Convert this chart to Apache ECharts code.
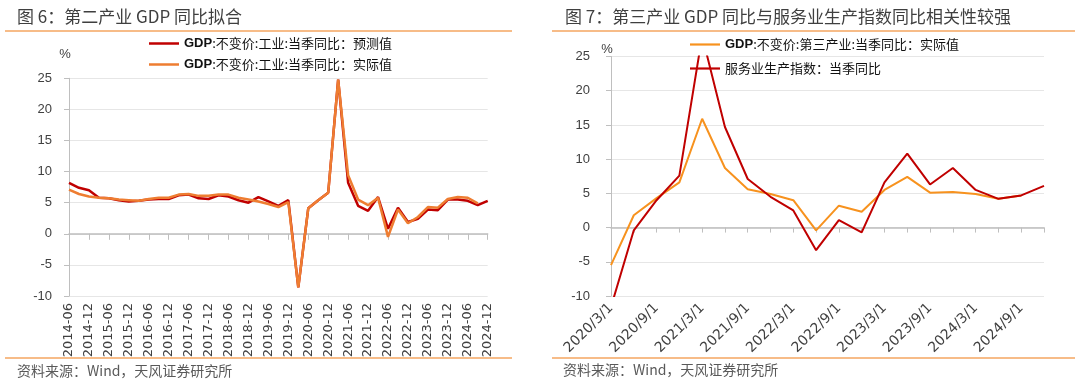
<!DOCTYPE html>
<html><head><meta charset="utf-8">
<script src="https://cdn.jsdelivr.net/npm/echarts@6/dist/echarts.min.js"></script>
<style>html,body{margin:0;padding:0;background:#fff}#c{width:1080px;height:383px}</style>
</head><body><div id="c"></div>
<script>
// ---------- Left chart (图6) ----------
const leftCategories = [
  '2014-06','2014-09','2014-12',
  '2015-03','2015-06','2015-09','2015-12',
  '2016-03','2016-06','2016-09','2016-12',
  '2017-03','2017-06','2017-09','2017-12',
  '2018-03','2018-06','2018-09','2018-12',
  '2019-03','2019-06','2019-09','2019-12',
  '2020-03','2020-06','2020-09','2020-12',
  '2021-03','2021-06','2021-09','2021-12',
  '2022-03','2022-06','2022-09','2022-12',
  '2023-03','2023-06','2023-09','2023-12',
  '2024-03','2024-06','2024-09','2024-12'
];
const leftForecast = [8.2,7.4,7.0,5.8,5.7,5.4,5.2,5.3,5.5,5.6,5.6,6.2,6.3,5.7,5.6,6.2,6.0,5.4,5.0,5.9,5.2,4.5,5.4,-8.6,4.1,5.4,6.6,24.8,8.2,4.5,3.7,5.9,0.8,4.2,1.9,2.4,3.9,3.8,5.5,5.5,5.3,4.6,5.3];
const leftActual   = [7.1,6.4,6.0,5.8,5.7,5.5,5.4,5.3,5.6,5.8,5.8,6.3,6.4,6.1,6.1,6.3,6.3,5.8,5.5,5.2,4.8,4.3,5.1,-8.6,4.1,5.4,6.6,24.8,9.4,5.5,4.6,5.8,-0.5,3.9,1.7,2.7,4.3,4.2,5.6,5.9,5.8,4.9];
const leftNames = ['GDP:不变价:工业:当季同比：预测值','GDP:不变价:工业:当季同比：实际值'];

// ---------- Right chart (图7) ----------
const rightCategories = [
  '2020/3/1','2020/6/1','2020/9/1','2020/12/1',
  '2021/3/1','2021/6/1','2021/9/1','2021/12/1',
  '2022/3/1','2022/6/1','2022/9/1','2022/12/1',
  '2023/3/1','2023/6/1','2023/9/1','2023/12/1',
  '2024/3/1','2024/6/1','2024/9/1','2024/12/1'
];
const rightGdpActual    = [-5.5,1.8,4.3,6.6,15.9,8.7,5.6,4.9,4.0,-0.4,3.2,2.3,5.5,7.4,5.1,5.2,4.9,4.2,4.7,null];
const rightServiceIndex = [-11.6,-0.4,4.0,7.6,28.0,14.7,7.1,4.5,2.5,-3.3,1.1,-0.7,6.6,10.8,6.3,8.7,5.5,4.2,4.7,6.1];
const rightNames = ['GDP:不变价:第三产业:当季同比：实际值','服务业生产指数：当季同比'];

const yMin = -10, yMax = 25, yStep = 5;

const RED = '#C00000', ORANGE_L = '#EE7D31', ORANGE_R = '#F7921E';
const LATIN = '"Liberation Sans", Arial, "Noto Sans CJK SC", sans-serif';
const CJK = '"Noto Sans CJK SC", "Liberation Sans", sans-serif';
const TICK = '#404040', AXIS = '#BFBFBF', GRIDC = '#E6E6E6';

const legendFormatter = n => n.startsWith('GDP') ? '{b|GDP}{n|' + n.slice(3) + '}' : '{n|' + n + '}';
const legendRich = {
  b: {fontWeight: 'bold', fontSize: 13, fontFamily: LATIN, color: '#111', lineHeight: 14},
  n: {fontSize: 13, fontFamily: CJK, color: '#111', lineHeight: 14}
};

function yAxis(gi, margin) {
  return {
    type: 'value', gridIndex: gi, min: yMin, max: yMax, interval: yStep,
    axisLine: {show: true, lineStyle: {color: AXIS, width: 1}},
    axisTick: {show: true, length: 5, lineStyle: {color: AXIS}},
    axisLabel: {margin: margin, fontSize: 13, fontFamily: LATIN, color: TICK},
    splitLine: {show: true, lineStyle: {color: GRIDC, width: 1}}
  };
}

const chart = echarts.init(document.getElementById('c'), null, {renderer: 'canvas'});
chart.setOption({
  backgroundColor: '#fff',
  animation: false,
  grid: [
    {left: 69, top: 78.3, width: 418.7, height: 217.7, containLabel: false},
    {left: 611, top: 56.5, width: 433, height: 239.5, containLabel: false}
  ],
  xAxis: [
    {type: 'category', gridIndex: 0, data: leftCategories, boundaryGap: false,
     axisLine: {onZero: true, lineStyle: {color: AXIS, width: 1.5}},
     axisTick: {show: true, interval: 1, length: 6, lineStyle: {color: AXIS}},
     axisLabel: {show: false}, splitLine: {show: false}},
    {type: 'category', gridIndex: 0, data: leftCategories, boundaryGap: false, position: 'bottom',
     axisLine: {show: false, onZero: false}, axisTick: {show: false},
     axisLabel: {interval: 1, rotate: 90, margin: 7, fontSize: 13, fontFamily: '"DejaVu Sans", sans-serif', color: TICK},
     splitLine: {show: false}},
    {type: 'category', gridIndex: 1, data: rightCategories, boundaryGap: false,
     axisLine: {onZero: true, lineStyle: {color: AXIS, width: 1.5}},
     axisTick: {show: true, interval: 0, length: 5, lineStyle: {color: AXIS}},
     axisLabel: {show: false}, splitLine: {show: false}},
    {type: 'category', gridIndex: 1, data: rightCategories, boundaryGap: false, position: 'bottom',
     axisLine: {show: false, onZero: false}, axisTick: {show: false},
     axisLabel: {interval: 1, rotate: 45, margin: 10, fontSize: 14, fontFamily: '"DejaVu Sans", sans-serif', color: TICK},
     splitLine: {show: false}}
  ],
  yAxis: [yAxis(0, 17), yAxis(1, 21)],
  legend: [
    {orient: 'vertical', left: 149, top: 37, padding: 0, icon: 'rect', itemWidth: 30, itemHeight: 2.5, itemGap: 8,
     data: leftNames, formatter: legendFormatter, textStyle: {rich: legendRich}, selectedMode: false},
    {orient: 'vertical', left: 690, top: 38, padding: 0, icon: 'rect', itemWidth: 30, itemHeight: 2.2, itemGap: 11,
     data: rightNames, formatter: legendFormatter, textStyle: {rich: legendRich}, selectedMode: false}
  ],
  series: [
    {name: leftNames[0], type: 'line', xAxisIndex: 0, yAxisIndex: 0, data: leftForecast,
     symbol: 'none', lineStyle: {color: RED, width: 2.5}, itemStyle: {color: RED}, z: 2},
    {name: leftNames[1], type: 'line', xAxisIndex: 0, yAxisIndex: 0, data: leftActual,
     symbol: 'none', lineStyle: {color: ORANGE_L, width: 2.5}, itemStyle: {color: ORANGE_L}, z: 3},
    {name: rightNames[0], type: 'line', xAxisIndex: 2, yAxisIndex: 1, data: rightGdpActual,
     symbol: 'none', lineStyle: {color: ORANGE_R, width: 2}, itemStyle: {color: ORANGE_R}, z: 2},
    {name: rightNames[1], type: 'line', xAxisIndex: 2, yAxisIndex: 1, data: rightServiceIndex,
     symbol: 'none', lineStyle: {color: RED, width: 2}, itemStyle: {color: RED}, z: 3}
  ],
  graphic: [
    {type: 'text', x: 17, y: 17, style: {text: '图 6：第二产业 GDP 同比拟合', fontSize: 17, fontFamily: CJK, fill: '#3f3f3f', verticalAlign: 'middle'}},
    {type: 'text', x: 565, y: 17, style: {text: '图 7：第三产业 GDP 同比与服务业生产指数同比相关性较强', fontSize: 17, fontFamily: CJK, fill: '#3f3f3f', verticalAlign: 'middle'}},
    {type: 'line', shape: {x1: 5, y1: 31, x2: 512, y2: 31}, style: {stroke: '#F4A661', lineWidth: 1.5}},
    {type: 'line', shape: {x1: 552, y1: 31, x2: 1075, y2: 31}, style: {stroke: '#F4A661', lineWidth: 1.5}},
    {type: 'line', shape: {x1: 5, y1: 358, x2: 512, y2: 358}, style: {stroke: '#F4A661', lineWidth: 1.5}},
    {type: 'line', shape: {x1: 552, y1: 358, x2: 1075, y2: 358}, style: {stroke: '#F4A661', lineWidth: 1.5}},
    {type: 'text', x: 17, y: 371, style: {text: '资料来源：Wind，天风证券研究所', fontSize: 14, fontFamily: CJK, fill: '#595959', verticalAlign: 'middle'}},
    {type: 'text', x: 563, y: 370, style: {text: '资料来源：Wind，天风证券研究所', fontSize: 14, fontFamily: CJK, fill: '#595959', verticalAlign: 'middle'}},
    {type: 'text', x: 65, y: 54, style: {text: '%', fontSize: 13, fontFamily: LATIN, fill: TICK, align: 'center', verticalAlign: 'middle'}},
    {type: 'text', x: 607, y: 49, style: {text: '%', fontSize: 13, fontFamily: LATIN, fill: TICK, align: 'center', verticalAlign: 'middle'}}
  ]
});
</script></body></html>
